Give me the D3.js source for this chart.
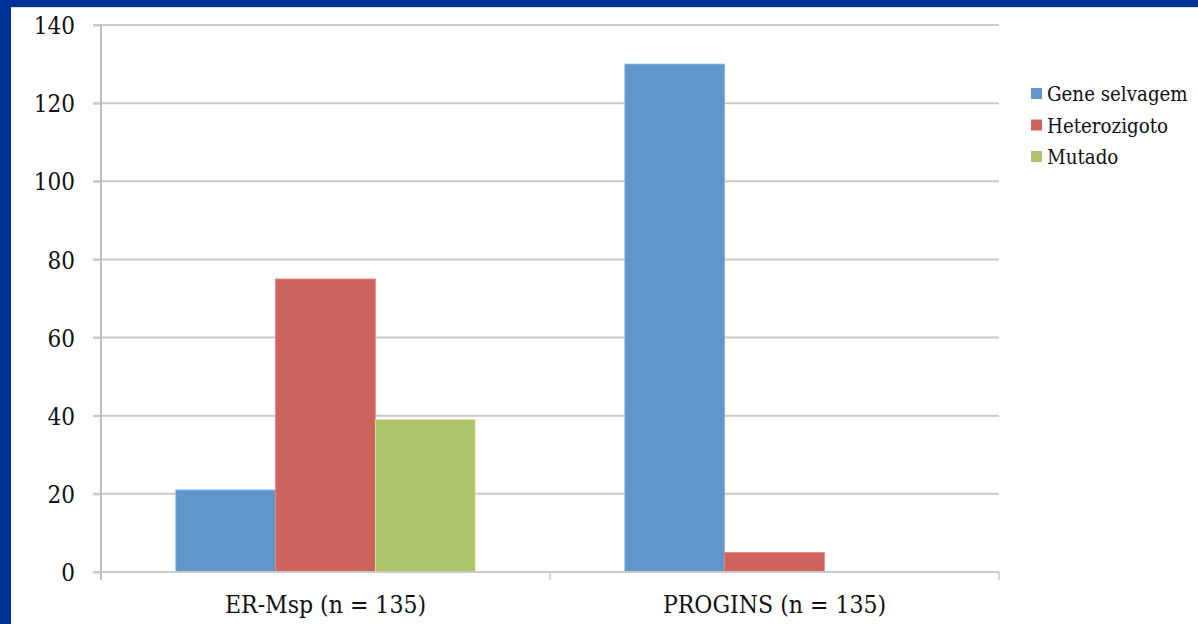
<!DOCTYPE html>
<html>
<head>
<meta charset="utf-8">
<script src="https://cdn.jsdelivr.net/npm/d3@7"></script>
<style>
  html, body { margin: 0; padding: 0; background: #003399; }
  svg { display: block; }
</style>
</head>
<body>
<svg id="chart" width="1198" height="624"></svg>
<script>
// Genotype counts per polymorphism
const categories = ["ER-Msp (n = 135)", "PROGINS (n = 135)"];
const seriesNames = ["Gene selvagem", "Heterozigoto", "Mutado"];
const geneSelvagem = [21, 130];
const heterozigoto = [75, 5];
const mutado = [39, 0];
const yTicks = [0, 20, 40, 60, 80, 100, 120, 140];

const seriesValues = [geneSelvagem, heterozigoto, mutado];
const colors = ["#6096ca", "#cd655e", "#abc46c"];

const W = 1198, H = 624;
const svg = d3.select("#chart");

// slide frame: blue border with white panel
svg.append("rect").attr("x", 0).attr("y", 0).attr("width", W).attr("height", H).attr("fill", "#003399");
svg.append("rect").attr("x", 11).attr("y", 7).attr("width", W - 11).attr("height", H - 7).attr("fill", "#ffffff");
svg.append("line").attr("x1", 11).attr("x2", W).attr("y1", 7.5).attr("y2", 7.5)
  .attr("stroke", "#d8d8e0").attr("stroke-width", 1);

const plot = { left: 101, right: 999, top: 25, bottom: 572 };
const font = "'DejaVu Serif Condensed', 'DejaVu Serif', serif";

const x0 = d3.scaleBand().domain(categories).range([plot.left, plot.right]).paddingInner(0).paddingOuter(0);
// Excel-style gap width of 150% of a bar
const barW = x0.bandwidth() / (seriesNames.length + 1.5);
const x1 = d3.scaleBand().domain(seriesNames)
  .range([0.75 * barW, 0.75 * barW + seriesNames.length * barW]).padding(0);
const y = d3.scaleLinear().domain([0, 140]).range([plot.bottom, plot.top]);

// gridlines
svg.append("g").selectAll("line").data(yTicks.filter(d => d > 0)).join("line")
  .attr("x1", plot.left - 8).attr("x2", plot.right)
  .attr("y1", d => y(d)).attr("y2", d => y(d))
  .attr("stroke", "#c9c9c9").attr("stroke-width", 2);

// y axis
const yAxis = d3.axisLeft(y).tickValues(yTicks).tickSize(8).tickPadding(18).tickFormat(d3.format("d"));
const gy = svg.append("g").attr("transform", `translate(${plot.left},0)`).call(yAxis);
gy.select(".domain").attr("stroke", "#a9a9a9").attr("stroke-width", 1.5)
  .attr("d", `M0,${plot.top}V${plot.bottom + 8}`);
gy.selectAll(".tick line").attr("stroke", "#c9c9c9").attr("stroke-width", 2);
gy.selectAll(".tick text").attr("font-family", font).attr("font-size", 24).attr("fill", "#111")
  .attr("dy", "0.36em");

// bars
const groups = svg.append("g").selectAll("g").data(categories).join("g")
  .attr("transform", d => `translate(${x0(d)},0)`);
groups.selectAll("rect")
  .data((c, i) => seriesNames.map((s, j) => ({ s, v: seriesValues[j][i], j })))
  .join("rect")
  .attr("x", d => x1(d.s))
  .attr("width", x1.bandwidth())
  .attr("y", d => y(d.v))
  .attr("height", d => y(0) - y(d.v))
  .attr("fill", d => colors[d.j])
  .attr("stroke", d => d3.color(colors[d.j]).brighter(0.6))
  .attr("stroke-width", 0.8);

// x axis
const xAxis = d3.axisBottom(x0).tickSize(0).tickPadding(24);
const gx = svg.append("g").attr("transform", `translate(0,${plot.bottom})`).call(xAxis);
gx.select(".domain").attr("stroke", "#c9c9c9").attr("stroke-width", 2)
  .attr("d", `M${plot.left - 8},0H${plot.right}`);
gx.selectAll(".tick text").attr("font-family", font).attr("font-size", 24.5).attr("fill", "#111");
// category separator ticks
svg.append("g").selectAll("line").data([x0(categories[1]), plot.right]).join("line")
  .attr("x1", d => d).attr("x2", d => d)
  .attr("y1", plot.bottom).attr("y2", plot.bottom + 8)
  .attr("stroke", "#c9c9c9").attr("stroke-width", 1.5);

// legend
const legend = svg.append("g").attr("transform", "translate(1031,94)");
const items = legend.selectAll("g").data(seriesNames).join("g")
  .attr("transform", (d, i) => `translate(0,${i * 31.5})`);
items.append("rect").attr("x", 0).attr("y", -6).attr("width", 11).attr("height", 11)
  .attr("fill", (d, i) => colors[i]);
items.append("text").attr("x", 16).attr("y", 0).attr("dy", "0.36em")
  .attr("font-family", font).attr("font-size", 20.3).attr("fill", "#111").text(d => d);
</script>
</body>
</html>
